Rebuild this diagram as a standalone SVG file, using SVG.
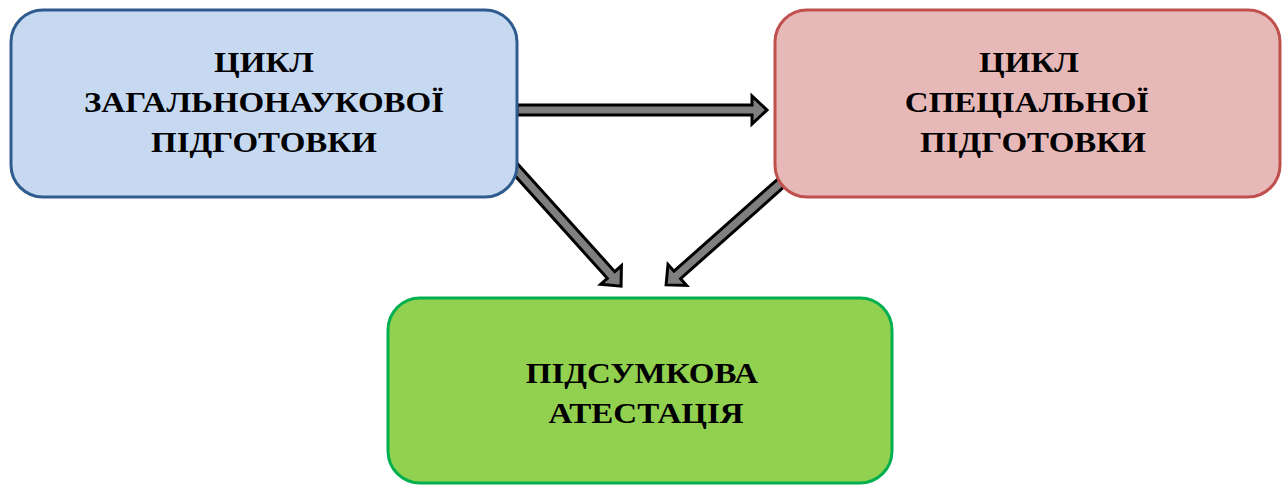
<svg xmlns="http://www.w3.org/2000/svg" width="1288" height="486" viewBox="0 0 1288 486">
<style>
.box{stroke-width:3}
.t{font-family:"Liberation Serif","Times New Roman",serif;font-weight:bold;font-size:30px;fill:#000;text-anchor:middle}
.arr{fill:#7f7f7f;stroke:#000;stroke-width:3;stroke-linejoin:miter}
</style>
<rect width="1288" height="486" fill="#fff"/>
<g id="connectors">
<polygon class="arr" transform="translate(517,110)" points="0,-5 235,-5 235,-14 250,0 235,14 235,5 0,5"/>
<polygon class="arr" transform="translate(512,165) rotate(48)" points="0,-5 148,-5 148,-14 163,0 148,14 148,5 0,5"/>
<polygon class="arr" transform="translate(782,182) rotate(138.4)" points="0,-5 140,-5 140,-14 155,0 140,14 140,5 0,5"/>
</g>
<g id="node1">
<rect class="box" x="11" y="10" width="506" height="187" rx="32" fill="#C6D9F1" stroke="#2F5B8F"/>
<text class="t" transform="translate(264,72) scale(1.1,1)">ЦИКЛ</text>
<text class="t" transform="translate(264,112) scale(1.1,1)">ЗАГАЛЬНОНАУКОВОЇ</text>
<text class="t" transform="translate(264,152) scale(1.1,1)">ПІДГОТОВКИ</text>
</g>
<g id="node2">
<rect class="box" x="775" y="10" width="505" height="187" rx="32" fill="#E6B9B8" stroke="#C0504D"/>
<text class="t" transform="translate(1029,72) scale(1.1,1)">ЦИКЛ</text>
<text class="t" transform="translate(1027,112) scale(1.1,1)">СПЕЦІАЛЬНОЇ</text>
<text class="t" transform="translate(1033,152) scale(1.1,1)">ПІДГОТОВКИ</text>
</g>
<g id="node3">
<rect class="box" x="388" y="298" width="504" height="185" rx="32" fill="#92D050" stroke="#00B050"/>
<text class="t" transform="translate(642,383) scale(1.1,1)">ПІДСУМКОВА</text>
<text class="t" transform="translate(646,423) scale(1.1,1)">АТЕСТАЦІЯ</text>
</g>
</svg>
